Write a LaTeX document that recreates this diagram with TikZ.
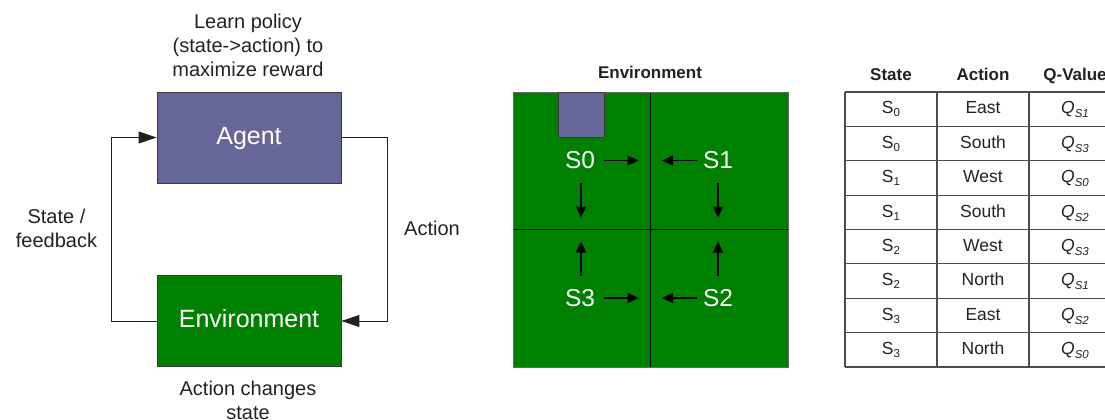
\documentclass[tikz,border=0pt]{standalone}
\usepackage{fontspec}
\setmainfont{Liberation Sans}
\usetikzlibrary{arrows.meta}
\definecolor{agentblue}{HTML}{666699}
\definecolor{envgreen}{HTML}{008000}
\definecolor{edgegray}{HTML}{3A3A3A}
\definecolor{inkgray}{HTML}{222222}
\newcommand\lowsub[1]{\raisebox{-3pt}{\fontsize{11.5}{12}\selectfont #1}}
\newcommand\qval[1]{\textit{Q}\raisebox{-4pt}{\fontsize{11.5}{12}\selectfont\itshape S#1}}

\begin{document}
\begin{tikzpicture}[x=1pt,y=-1pt,
  box/.style={draw=edgegray, line width=0.9pt, minimum width=184pt,
    minimum height=91pt, inner sep=0pt, text=white,
    font=\fontsize{25}{30}\selectfont, text height=18pt, text depth=5pt},
  txtlabel/.style={font=\fontsize{20}{24}\selectfont, text=inkgray,
    align=center, inner sep=0pt},
  loopline/.style={draw=inkgray, line width=1pt,
    -{Triangle[length=18pt,width=12pt]}},
  gridline/.style={draw=black, line width=1pt},
  glabel/.style={font=\fontsize{24.5}{28}\selectfont, text=white,
    anchor=base, inner sep=0pt},
  garrow/.style={draw=black, line width=1.3pt,
    -{Triangle[length=11pt,width=10pt]}},
  head/.style={font=\bfseries\fontsize{17}{20}\selectfont, text=inkgray,
    anchor=base, inner sep=0pt},
  cell/.style={font=\fontsize{17.5}{21}\selectfont, text=inkgray,
    anchor=base, inner sep=0pt},
  tableline/.style={draw=black!70, line width=1.1pt}]

\clip (0,0) rectangle (1105,420);

% ---------- agent / environment loop ----------
\node[box, fill=agentblue] (agent) at (249,137.5) {Agent};
\node[box, fill=envgreen] (env) at (249,321) {Environment};

\node[txtlabel, anchor=north] (policy) at (248,13.5)
  {Learn policy\\(state->action) to\\maximize reward};
\node[txtlabel, anchor=north] (changes) at (248,380.5)
  {Action changes\\state};
\node[txtlabel, anchor=north] (feedback) at (56.5,208.5)
  {State /\\feedback};
\node[txtlabel, anchor=base] (action) at (432,235) {Action};

\draw[loopline] (env.west) -- ++(-45,0) |- (agent.west);
\draw[loopline] (agent.east) -- ++(46,0) |- (env.east);

% ---------- grid world ----------
\node[head] (envtitle) at (650,78.5) {Environment};
\fill[envgreen] (513,92) rectangle (788,367);
\draw[gridline] (650,92) -- (650,367);
\draw[gridline] (513,229.5) -- (788,229.5);
\draw[draw=black!60, line width=0.8pt] (513,92) rectangle (788,367);
\draw[fill=agentblue, draw=edgegray, line width=0.9pt] (558,92) rectangle (604,137);

\node[glabel] (s0) at (580,168.5) {S0};
\node[glabel] (s1) at (718,168.5) {S1};
\node[glabel] (s3) at (580,306) {S3};
\node[glabel] (s2) at (718,306) {S2};

\draw[garrow] (604,160.5) -- (638.5,160.5);
\draw[garrow] (696.5,160.5) -- (662,160.5);
\draw[garrow] (581,183) -- (581,217.5);
\draw[garrow] (718,183) -- (718,217.5);
\draw[garrow] (604,298) -- (638.5,298);
\draw[garrow] (696.5,298) -- (662,298);
\draw[garrow] (581,276) -- (581,241.5);
\draw[garrow] (718,276) -- (718,241.5);

% ---------- Q table ----------
\node[head] (hstate) at (891,80) {State};
\node[head] (haction) at (983,80) {Action};
\node[head] (hq) at (1075,80) {Q-Value};

\foreach \i in {0,...,8}
  \draw[tableline] (845,{92+34.375*\i}) -- (1125,{92+34.375*\i});
\foreach \x in {845,937,1029,1121}
  \draw[tableline] (\x,92) -- (\x,367);

\foreach \s/\a/\q [count=\i] in
  {0/East/1, 0/South/3, 1/West/0, 1/South/2,
   2/West/3, 2/North/1, 3/East/2, 3/North/0}
{
  \node[cell] (st\i) at (891,{79.6+34.375*\i}) {S\lowsub{\s}};
  \node[cell] (ac\i) at (983,{79.6+34.375*\i}) {\a};
  \node[cell] (qv\i) at (1075,{79.6+34.375*\i}) {\qval{\q}};
}
\end{tikzpicture}
\end{document}
